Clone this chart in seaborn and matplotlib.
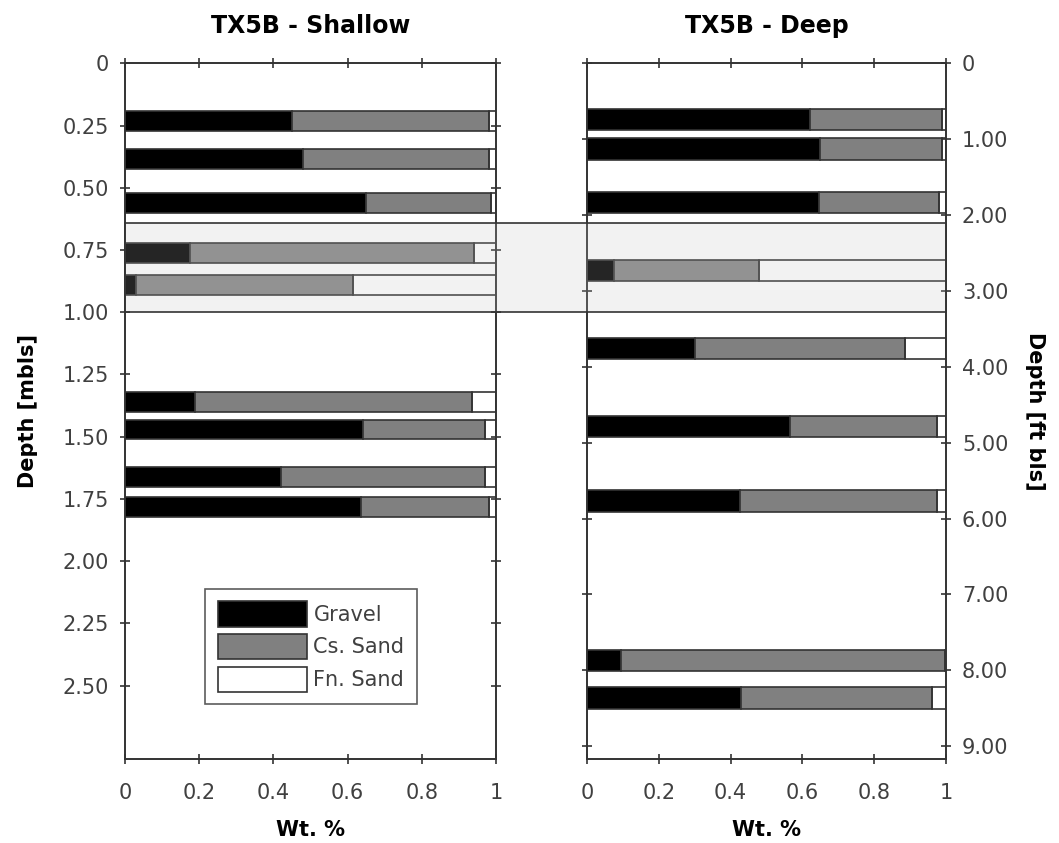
import matplotlib
matplotlib.use('Agg')
import matplotlib.pyplot as plt
import matplotlib.transforms as mtransforms
from matplotlib.patches import Rectangle, Patch
import numpy as np
import seaborn as sns

# shallow core: bar centre depth in m bls, fractions per size class
shallow_depth = [0.232, 0.385, 0.561, 0.762, 0.891, 1.359, 1.471, 1.663, 1.781]
shallow_gravel = [0.45, 0.48, 0.65, 0.175, 0.03, 0.19, 0.64, 0.42, 0.635]
shallow_cs = [0.53, 0.50, 0.335, 0.765, 0.585, 0.745, 0.33, 0.55, 0.345]
shallow_fn = [0.02, 0.02, 0.015, 0.06, 0.385, 0.065, 0.03, 0.03, 0.02]

# deep core: bar centre depth in ft bls
deep_depth = [0.737, 1.130, 1.830, 2.735, 3.755, 4.788, 5.770, 7.867, 8.364]
deep_gravel = [0.62, 0.65, 0.645, 0.075, 0.30, 0.565, 0.425, 0.095, 0.43]
deep_cs = [0.37, 0.34, 0.335, 0.405, 0.585, 0.41, 0.55, 0.903, 0.53]
deep_fn = [0.01, 0.01, 0.02, 0.52, 0.115, 0.025, 0.025, 0.002, 0.04]

# highlighted interval (m bls)
band_top_m, band_bot_m = 0.64, 1.0

components = ['Gravel', 'Cs. Sand', 'Fn. Sand']
colors = ['black', '#808080', 'none']
M_TO_FT = 3.2808
EDGE = '#333333'
TICK_COL = '#404040'

sns.set_theme(style='white')
plt.rcParams['font.family'] = ['DejaVu Sans']


def stack_bars(ax, depth, parts, height):
    left = np.zeros(len(depth))
    for vals, col in zip(parts, colors):
        ax.barh(depth, vals, left=left, height=height, color=col,
                edgecolor=EDGE, linewidth=1.2, zorder=2)
        left += np.array(vals)


def style_axes(ax):
    ax.set_facecolor('none')
    for s in ax.spines.values():
        s.set_color(EDGE)
        s.set_linewidth(1.4)
    ax.set_xlim(0, 1)
    ax.set_xticks([0, 0.2, 0.4, 0.6, 0.8, 1.0])
    ax.set_xticklabels(['0', '0.2', '0.4', '0.6', '0.8', '1'])
    ax.tick_params(axis='both', direction='inout', length=7, width=1.2,
                   color=EDGE, labelsize=15, labelcolor=TICK_COL)
    ax.tick_params(axis='x', top=True, bottom=True, labeltop=False, pad=14)
    ax.set_xlabel('Wt. %', fontsize=15, fontweight='bold', labelpad=12,
                  color='black')


fig = plt.figure(figsize=(10.59, 8.43), dpi=100)
ax1 = fig.add_axes([0.118, 0.0996, 0.3505, 0.8253])
ax2 = fig.add_axes([0.5543, 0.0996, 0.339, 0.8253])

stack_bars(ax1, shallow_depth, [shallow_gravel, shallow_cs, shallow_fn], 0.08)
stack_bars(ax2, deep_depth, [deep_gravel, deep_cs, deep_fn], 0.28)

style_axes(ax1)
style_axes(ax2)

ymax_m = 2.795
ax1.set_ylim(ymax_m, 0)
ax1.set_yticks(np.arange(0, 2.51, 0.25))
ax1.set_yticklabels(['0'] + ['%.2f' % v for v in np.arange(0.25, 2.51, 0.25)])
ax1.tick_params(axis='y', left=True, right=True, pad=8)
ax1.set_ylabel('Depth [mbls]', fontsize=15, fontweight='bold', labelpad=18,
               color='black')
ax1.set_title('TX5B - Shallow', fontsize=17, fontweight='bold', pad=22,
              color='black')

ax2.set_ylim(ymax_m * M_TO_FT, 0)
ax2.set_yticks(np.arange(0, 10))
ax2.set_yticklabels(['0'] + ['%.2f' % v for v in np.arange(1, 10)])
ax2.yaxis.set_label_position('right')
ax2.tick_params(axis='y', left=True, right=True, labelleft=False,
                labelright=True, pad=8)
ax2.set_ylabel('Depth [ft bls]', fontsize=15, fontweight='bold',
               rotation=-90, labelpad=26, color='black')
ax2.set_title('TX5B - Deep', fontsize=17, fontweight='bold', pad=22,
              color='black')

# shaded interval spanning both panels
x0, x1 = 125 / 1059, 946 / 1059
trans = mtransforms.blended_transform_factory(fig.transFigure, ax1.transData)
fig.patches.append(Rectangle((x0, band_top_m), x1 - x0, band_bot_m - band_top_m,
                             transform=trans, facecolor='#f0f0f0',
                             edgecolor='none', zorder=-1))
fig.patches.append(Rectangle((x0, band_top_m), x1 - x0, band_bot_m - band_top_m,
                             transform=trans, facecolor=(1, 1, 1, 0.15),
                             edgecolor=EDGE, linewidth=1.2, zorder=5))

handles = [Patch(facecolor=c if c != 'none' else 'white', edgecolor=EDGE,
                 linewidth=1.2, label=l) for c, l in zip(colors, components)]
leg = ax1.legend(handles=handles, loc='upper left', bbox_to_anchor=(0.216, 0.245),
                 borderaxespad=0, fontsize=15, frameon=True, fancybox=False,
                 handlelength=4.3, handleheight=1.5, labelspacing=0.35,
                 handletextpad=0.3, borderpad=0.6)
leg.get_frame().set_edgecolor(EDGE)
leg.get_frame().set_linewidth(1.2)
for t in leg.get_texts():
    t.set_color(TICK_COL)

fig.savefig('out.png', dpi=100, facecolor='white')
